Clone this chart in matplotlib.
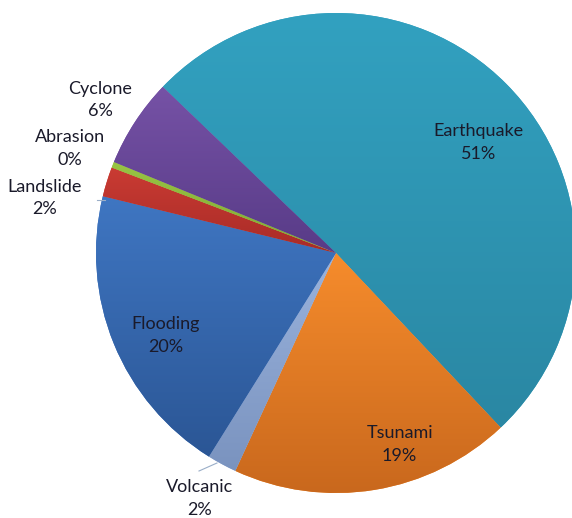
import numpy as np
import matplotlib.pyplot as plt
from matplotlib.colors import LinearSegmentedColormap

# data (clockwise from the top-left edge)
hazards = ["Earthquake", "Tsunami", "Volcanic", "Flooding", "Landslide", "Abrasion", "Cyclone"]
share = [51, 19, 2, 20, 2, 0.4, 6]

# gradient colours per slice (top, bottom)
top_colors = ["#32a1c0", "#f68c2c", "#9ab3dd", "#3f76c2", "#ca3b33", "#98c444", "#7652a6"]
bottom_colors = ["#2a87a3", "#c9681d", "#7a93bf", "#2b5695", "#a82b27", "#80aa34", "#583b87"]

# label placement: (radius, angle in degrees)
label_pos = [(0.75, 37.8), (0.84, -71.6), (1.17, 241.0), (0.79, 205.8),
             (1.235, 169.3), (1.19, 158.5), (1.17, 147.0)]

fig = plt.figure(figsize=(5.72, 5.18), dpi=100)
ax = fig.add_axes([0, 0, 1, 1])
ax.axis("off")

wedges, _ = ax.pie(share, startangle=136.2, counterclock=False, radius=1,
                   colors=top_colors, wedgeprops=dict(linewidth=0))

# vertical gradient inside each slice
for w, c1, c2 in zip(wedges, top_colors, bottom_colors):
    cmap = LinearSegmentedColormap.from_list("g", [c2, c1])
    bb = w.get_path().get_extents(w.get_transform() - ax.transData)
    grad = np.linspace(0, 1, 256).reshape(-1, 1)
    im = ax.imshow(grad, cmap=cmap, origin="lower", aspect="auto",
                   extent=[bb.x0, bb.x1, bb.y0, bb.y1], zorder=w.get_zorder() + 0.1)
    im.set_clip_path(w)

ax.set_xlim(-336 / 240, 236 / 240)
ax.set_ylim(-265 / 240, 253 / 240)

total = sum(share)
for name, v, (r, a) in zip(hazards, share, label_pos):
    t = np.deg2rad(a)
    ax.text(r * np.cos(t), r * np.sin(t), f"{name}\n{v / total * 100:.0f}%",
            ha="center", va="center", fontsize=13, family="Lato",
            color="#1a1a2a", linespacing=1.5, zorder=10)

# leader lines for the small outside labels
ax.plot([(97 - 336) / 240, (105 - 336) / 240], [(253 - 200) / 240, (253 - 200) / 240],
        color="#9aaec8", lw=0.8, zorder=10)
ax.plot([(199 - 336) / 240, (217 - 336) / 240], [(253 - 471) / 240, (253 - 463) / 240],
        color="#9aaec8", lw=0.8, zorder=10)

fig.savefig("out.png", dpi=100)
